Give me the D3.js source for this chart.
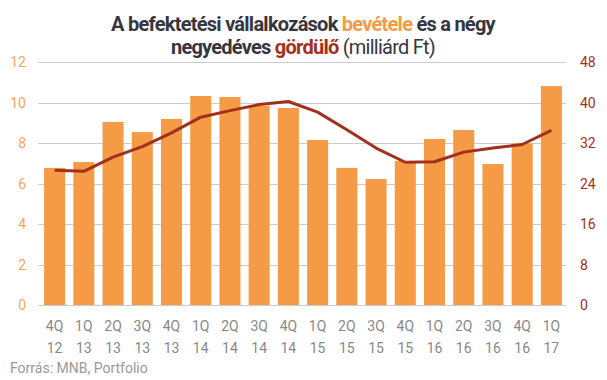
<!DOCTYPE html>
<html><head><meta charset="utf-8">
<script src="https://cdn.jsdelivr.net/npm/d3@7"></script>
<style>body{margin:0;background:#fff}svg{display:block}</style>
</head><body>
<svg id="c" width="607" height="380"></svg>
<script>
const quarters = ["4Q","1Q","2Q","3Q","4Q","1Q","2Q","3Q","4Q","1Q","2Q","3Q","4Q","1Q","2Q","3Q","4Q","1Q"];
const years    = ["12","13","13","13","13","14","14","14","14","15","15","15","15","16","16","16","16","17"];
const revenue  = [6.77,7.06,9.04,8.54,9.19,10.32,10.27,9.84,9.73,8.15,6.77,6.22,7.11,8.2,8.64,6.96,7.98,10.81];
const rolling  = [26.6,26.4,29.2,31.3,34.0,37.1,38.4,39.6,40.2,38.1,34.6,31.0,28.2,28.3,30.2,31.0,31.7,34.5];
const leftTicks  = [0,2,4,6,8,10,12];
const rightTicks = [0,8,16,24,32,40,48];

const svg = d3.select("#c");
const font = "Roboto, sans-serif";
const x = d3.scaleBand().domain(d3.range(revenue.length)).range([40,566]).paddingInner(0.28).paddingOuter(0.14);
const yL = d3.scaleLinear().domain([0,12]).range([305,62]);
const yR = d3.scaleLinear().domain([0,48]).range([305,62]);

// gridlines
svg.append("g").selectAll("line").data(leftTicks).join("line")
  .attr("x1",38).attr("x2",566)
  .attr("y1",d=>Math.round(yL(d))+0.5).attr("y2",d=>Math.round(yL(d))+0.5)
  .attr("stroke","#cccccc").attr("stroke-width",1);

// bars
svg.append("g").selectAll("rect").data(revenue).join("rect")
  .attr("x",(d,i)=>x(i)).attr("width",x.bandwidth())
  .attr("y",d=>yL(d)).attr("height",d=>yL(0)-yL(d))
  .attr("fill","#f59b45");

// line
const line = d3.line().x((d,i)=>x(i)+x.bandwidth()/2).y(d=>yR(d));
svg.append("path").datum(rolling).attr("d",line)
  .attr("fill","none").attr("stroke","#a3301c").attr("stroke-width",3).attr("stroke-linejoin","round");

// left axis labels
svg.append("g").selectAll("text").data(leftTicks).join("text")
  .attr("x",26).attr("y",d=>yL(d)+5).attr("text-anchor","end")
  .attr("font-family",font).attr("font-size",14).attr("fill","#f7a55c").text(d=>d);
// right axis labels
svg.append("g").selectAll("text").data(rightTicks).join("text")
  .attr("x",580).attr("y",d=>yR(d)+5).attr("text-anchor","start")
  .attr("font-family",font).attr("font-size",14).attr("fill","#a3301c").text(d=>d);

// x labels
const xl = svg.append("g").selectAll("text").data(quarters).join("text")
  .attr("x",(d,i)=>x(i)+x.bandwidth()/2).attr("text-anchor","middle")
  .attr("font-family",font).attr("font-size",14).attr("fill","#888888");
xl.append("tspan").attr("y",331).text(d=>d);
xl.append("tspan").attr("x",(d,i)=>x(i)+x.bandwidth()/2).attr("y",353).text((d,i)=>years[i]);

// title
const t1 = svg.append("text").attr("x",303).attr("y",31).attr("text-anchor","middle")
  .attr("font-family",font).attr("font-size",20).attr("font-weight","bold").attr("letter-spacing",-0.75).attr("fill","#363640");
t1.append("tspan").text("A befektetési vállalkozások ");
t1.append("tspan").attr("fill","#f59b45").text("bevétele");
t1.append("tspan").text(" és a négy");
const t2 = svg.append("text").attr("x",303).attr("y",54).attr("text-anchor","middle")
  .attr("font-family",font).attr("font-size",20).attr("font-weight","bold").attr("letter-spacing",-0.75).attr("fill","#363640");
t2.append("tspan").text("negyedéves ");
t2.append("tspan").attr("fill","#a3301c").text("gördülő");
t2.append("tspan").attr("font-weight","normal").text(" (milliárd Ft)");

// source
svg.append("text").attr("x",10).attr("y",373).attr("font-family",font).attr("font-size",14)
  .attr("fill","#999999").text("Forrás: MNB, Portfolio");
</script>
</body></html>
